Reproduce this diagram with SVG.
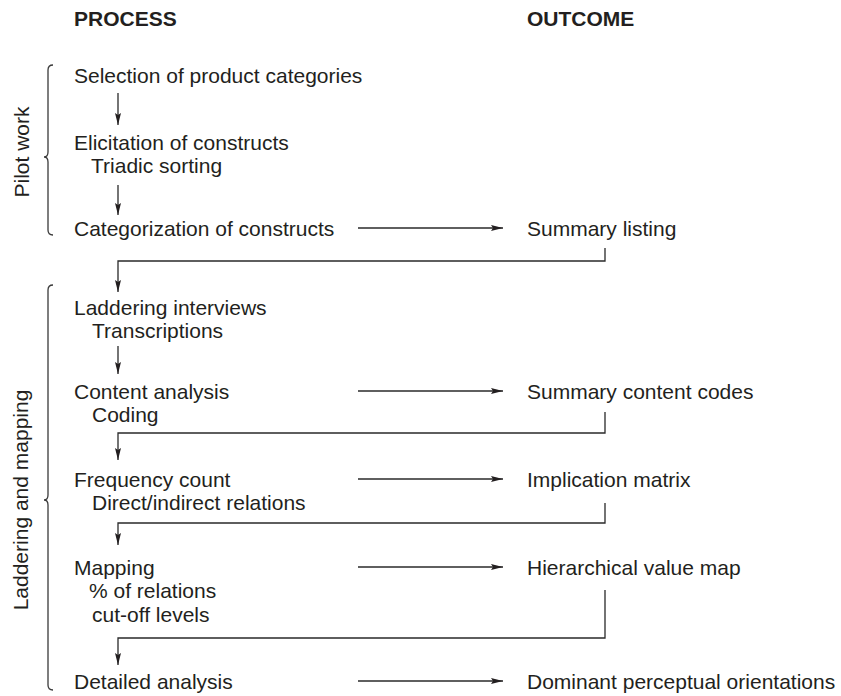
<svg xmlns="http://www.w3.org/2000/svg" width="841" height="696" viewBox="0 0 841 696">
  <style>
    text { font-family: "Liberation Sans", Arial, Helvetica, sans-serif; font-size: 21px; fill: #231f20; }
    .head { font-weight: bold; }
    .conn { fill: none; stroke: #2a2a2a; stroke-width: 1.3; }
    .brace { fill: none; stroke: #3a3a3a; stroke-width: 1.3; }
  </style>
  <defs>
    <marker id="arrow" viewBox="0 0 12 6" refX="12" refY="3" markerWidth="12" markerHeight="6" markerUnits="userSpaceOnUse" orient="auto">
      <path d="M0,0 L12,3 L0,6 L2,3 z" fill="#231f20"/>
    </marker>
  </defs>

  <rect width="841" height="696" fill="#ffffff"/>

  <!-- column headings -->
  <g id="headings">
    <text class="head" x="74" y="26">PROCESS</text>
    <text class="head" x="527" y="26">OUTCOME</text>
  </g>

  <!-- phase braces and labels -->
  <g id="phase-pilot">
    <path class="brace" d="M53,65 Q48,65 48,70 L48,152 Q48,157 44,157 Q48,157 48,162 L48,230 Q48,235 53,235"/>
    <text x="29" y="152" text-anchor="middle" transform="rotate(-90 29 152)">Pilot work</text>
  </g>
  <g id="phase-laddering">
    <path class="brace" d="M53,285 Q48,285 48,290 L48,495 Q48,500 44,500 Q48,500 48,505 L48,685 Q48,690 53,690"/>
    <text x="28" y="500" text-anchor="middle" transform="rotate(-90 28 500)">Laddering and mapping</text>
  </g>

  <!-- process steps -->
  <g id="selection">
    <text x="74" y="83">Selection of product categories</text>
  </g>
  <g id="elicitation">
    <text x="74" y="150">Elicitation of constructs</text>
    <text x="91" y="173">Triadic sorting</text>
  </g>
  <g id="categorization">
    <text x="74" y="236">Categorization of constructs</text>
  </g>
  <g id="laddering">
    <text x="74" y="315">Laddering interviews</text>
    <text x="92" y="338">Transcriptions</text>
  </g>
  <g id="content-analysis">
    <text x="74" y="399">Content analysis</text>
    <text x="92" y="422">Coding</text>
  </g>
  <g id="frequency-count">
    <text x="74" y="487">Frequency count</text>
    <text x="92" y="510">Direct/indirect relations</text>
  </g>
  <g id="mapping">
    <text x="74" y="575">Mapping</text>
    <text x="89" y="598">% of relations</text>
    <text x="92" y="622">cut-off levels</text>
  </g>
  <g id="detailed-analysis">
    <text x="74" y="689">Detailed analysis</text>
  </g>

  <!-- outcomes -->
  <g id="summary-listing">
    <text x="527" y="236">Summary listing</text>
  </g>
  <g id="summary-content-codes">
    <text x="527" y="399">Summary content codes</text>
  </g>
  <g id="implication-matrix">
    <text x="527" y="487">Implication matrix</text>
  </g>
  <g id="hierarchical-value-map">
    <text x="527" y="575">Hierarchical value map</text>
  </g>
  <g id="dominant-orientations">
    <text x="527" y="689">Dominant perceptual orientations</text>
  </g>

  <!-- connectors -->
  <g id="connectors">
    <path class="conn" d="M118,93 V125" marker-end="url(#arrow)"/>
    <path class="conn" d="M118,185 V215" marker-end="url(#arrow)"/>
    <path class="conn" d="M358,228 H503" marker-end="url(#arrow)"/>
    <path class="conn" d="M605,248 V261 H118 V292" marker-end="url(#arrow)"/>
    <path class="conn" d="M118,346 V374" marker-end="url(#arrow)"/>
    <path class="conn" d="M358,391 H503" marker-end="url(#arrow)"/>
    <path class="conn" d="M605,412 V433 H118 V460" marker-end="url(#arrow)"/>
    <path class="conn" d="M358,479 H503" marker-end="url(#arrow)"/>
    <path class="conn" d="M605,503 V523 H118 V545" marker-end="url(#arrow)"/>
    <path class="conn" d="M358,567 H503" marker-end="url(#arrow)"/>
    <path class="conn" d="M605,590 V638 H118 V665" marker-end="url(#arrow)"/>
    <path class="conn" d="M358,681 H503" marker-end="url(#arrow)"/>
  </g>
</svg>
